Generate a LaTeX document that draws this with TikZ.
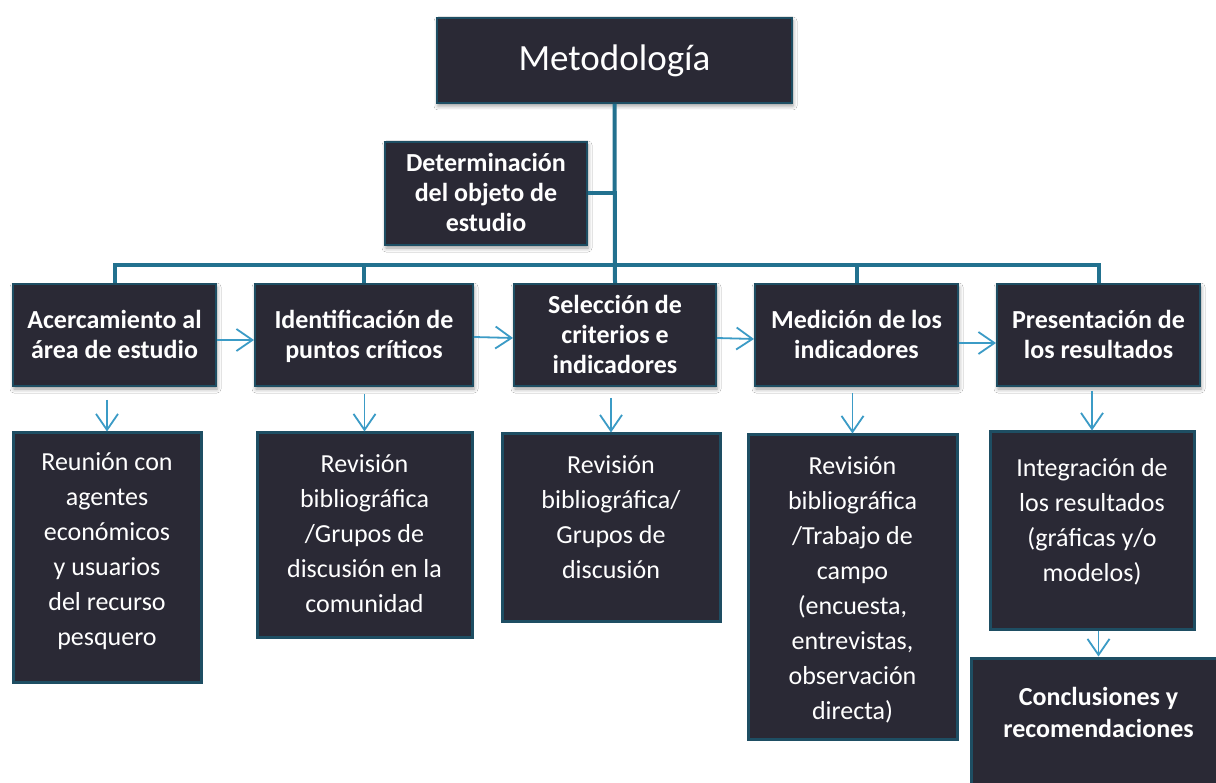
\documentclass[tikz,border=0pt]{standalone}
\usepackage{fontspec}
\setmainfont{Carlito}
\usetikzlibrary{arrows.meta,shadows.blur}

\definecolor{boxfill}{HTML}{2A2935}
\definecolor{boxedge}{HTML}{1E4E63}
\definecolor{busline}{HTML}{22718F}
\definecolor{arrowline}{HTML}{3B9BC6}

\tikzset{
  panel/.style={draw=boxedge, fill=boxfill, line width=2pt, inner sep=0pt,
    blur shadow={shadow xshift=1pt, shadow yshift=-3pt, shadow blur radius=4pt, shadow opacity=40}},
  lowpanel/.style={draw=boxedge, fill=boxfill, line width=3pt, inner sep=0pt},
  boldtext/.style={text=white, font=\bfseries\fontsize{26}{30}\selectfont, align=center, inner sep=0pt, anchor=north},
  plaintext/.style={text=white, font=\fontsize{26}{35}\selectfont, align=center, inner sep=0pt, anchor=north},
  bus/.style={draw=busline, line width=4pt},
  flow/.style={draw=arrowline, line width=1.8pt, -{Straight Barb[length=16pt,width=22pt]}},
}

\begin{document}
\begin{tikzpicture}[x=1pt, y=-1pt]
\useasboundingbox (0,0) rectangle (1216,783);
\clip (0,0) rectangle (1216,783);
\fill[white] (0,0) rectangle (1216,783);

% top of the tree
\node[panel, minimum width=355pt, minimum height=85pt, text=white,
      font=\fontsize{37}{44}\selectfont] (meto) at (614.5,60.5) {Metodología};
\node[panel, minimum width=202pt, minimum height=103pt] (determ) at (486,193.5) {};
\node[boldtext] (determt) at ([yshift=-9pt]determ.north)
  {\strut Determinación\\del objeto de\\estudio};

% stages
\node[panel, minimum width=203pt, minimum height=102pt] (acerc) at (114.5,335) {};
\node[panel, minimum width=218pt, minimum height=102pt] (ident) at (364,335) {};
\node[panel, minimum width=202pt, minimum height=102pt] (selec) at (615,335) {};
\node[panel, minimum width=203pt, minimum height=102pt] (medic) at (856.5,335) {};
\node[panel, minimum width=203pt, minimum height=102pt] (present) at (1098.5,335) {};

\node[boldtext] (acerct) at ([yshift=-24pt]acerc.north) {\strut Acercamiento al\\área de estudio};
\node[boldtext] (identt) at ([yshift=-24pt]ident.north) {\strut Identificación de\\puntos críticos};
\node[boldtext] (select) at ([yshift=-9pt]selec.north) {\strut Selección de\\criterios e\\indicadores};
\node[boldtext] (medict) at ([yshift=-24pt]medic.north) {\strut Medición de los\\indicadores};
\node[boldtext] (presentt) at ([yshift=-24pt]present.north) {\strut Presentación de\\los resultados};

% activities under each stage
\node[lowpanel, minimum width=188pt, minimum height=249pt] (reunion) at (107,557.5) {};
\node[lowpanel, minimum width=215pt, minimum height=204pt] (revA) at (364.5,535) {};
\node[lowpanel, minimum width=218pt, minimum height=187pt] (revB) at (611,527.5) {};
\node[lowpanel, minimum width=209pt, minimum height=304pt] (revC) at (852.5,587) {};
\node[lowpanel, minimum width=204pt, minimum height=197pt] (integ) at (1092,530.5) {};
\node[lowpanel, minimum width=255pt, minimum height=150pt] (concl) at (1098.5,733) {};

\node[plaintext] (reuniont) at ([yshift=-14pt]reunion.north)
  {\strut Reunión con\\agentes\\económicos\\y usuarios\\del recurso\\pesquero};
\node[plaintext] (revAt) at ([yshift=-16pt]revA.north)
  {\strut Revisión\\bibliográfica\\/Grupos de\\discusión en la\\comunidad};
\node[plaintext] (revBt) at ([yshift=-16pt]revB.north)
  {\strut Revisión\\bibliográfica/\\Grupos de\\discusión};
\node[plaintext] (revCt) at ([yshift=-16pt]revC.north)
  {\strut Revisión\\bibliográfica\\/Trabajo de\\campo\\(encuesta,\\entrevistas,\\observación\\directa)};
\node[plaintext] (integt) at ([yshift=-21pt]integ.north)
  {\strut Integración de\\los resultados\\(gráficas y/o\\modelos)};
\node[boldtext, font=\bfseries\fontsize{26}{32}\selectfont] (conclt) at ([yshift=-26pt]concl.north)
  {\strut Conclusiones y\\recomendaciones};

% hierarchy lines
\coordinate (busmid) at (615,265);
\draw[bus] (meto.south) -- (selec.north);
\draw[bus] (determ.east) -- (determ.east -| meto.south);
\draw[bus] (acerc.north) |- (busmid) -| (present.north);
\draw[bus] (ident.north) -- (ident.north |- busmid);
\draw[bus] (medic.north) -- (medic.north |- busmid);

% sequence arrows between stages
\draw[flow] ([yshift=-5pt]acerc.east) -- ([yshift=-5pt]ident.west);
\draw[flow] ([yshift=-2pt]ident.east) -- ([yshift=-3pt]selec.west);
\draw[flow] ([yshift=-3pt]selec.east) -- ([yshift=-4pt]medic.west);
\draw[flow] ([yshift=-8pt]medic.east) -- ([yshift=-8pt]present.west);

% arrows down to the activities
\draw[flow, shorten <=13pt] (acerc.south -| reunion.north) -- (reunion.north);
\draw[flow, shorten <=7pt] (ident.south -| revA.north) -- (revA.north);
\draw[flow, shorten <=11pt] (selec.south -| revB.north) -- (revB.north);
\draw[flow, shorten <=6pt] (medic.south -| revC.north) -- (revC.north);
\draw[flow, shorten <=4pt] (present.south -| integ.north) -- (integ.north);
\draw[flow] (integ.south -| concl.north) -- (concl.north);
\end{tikzpicture}
\end{document}
